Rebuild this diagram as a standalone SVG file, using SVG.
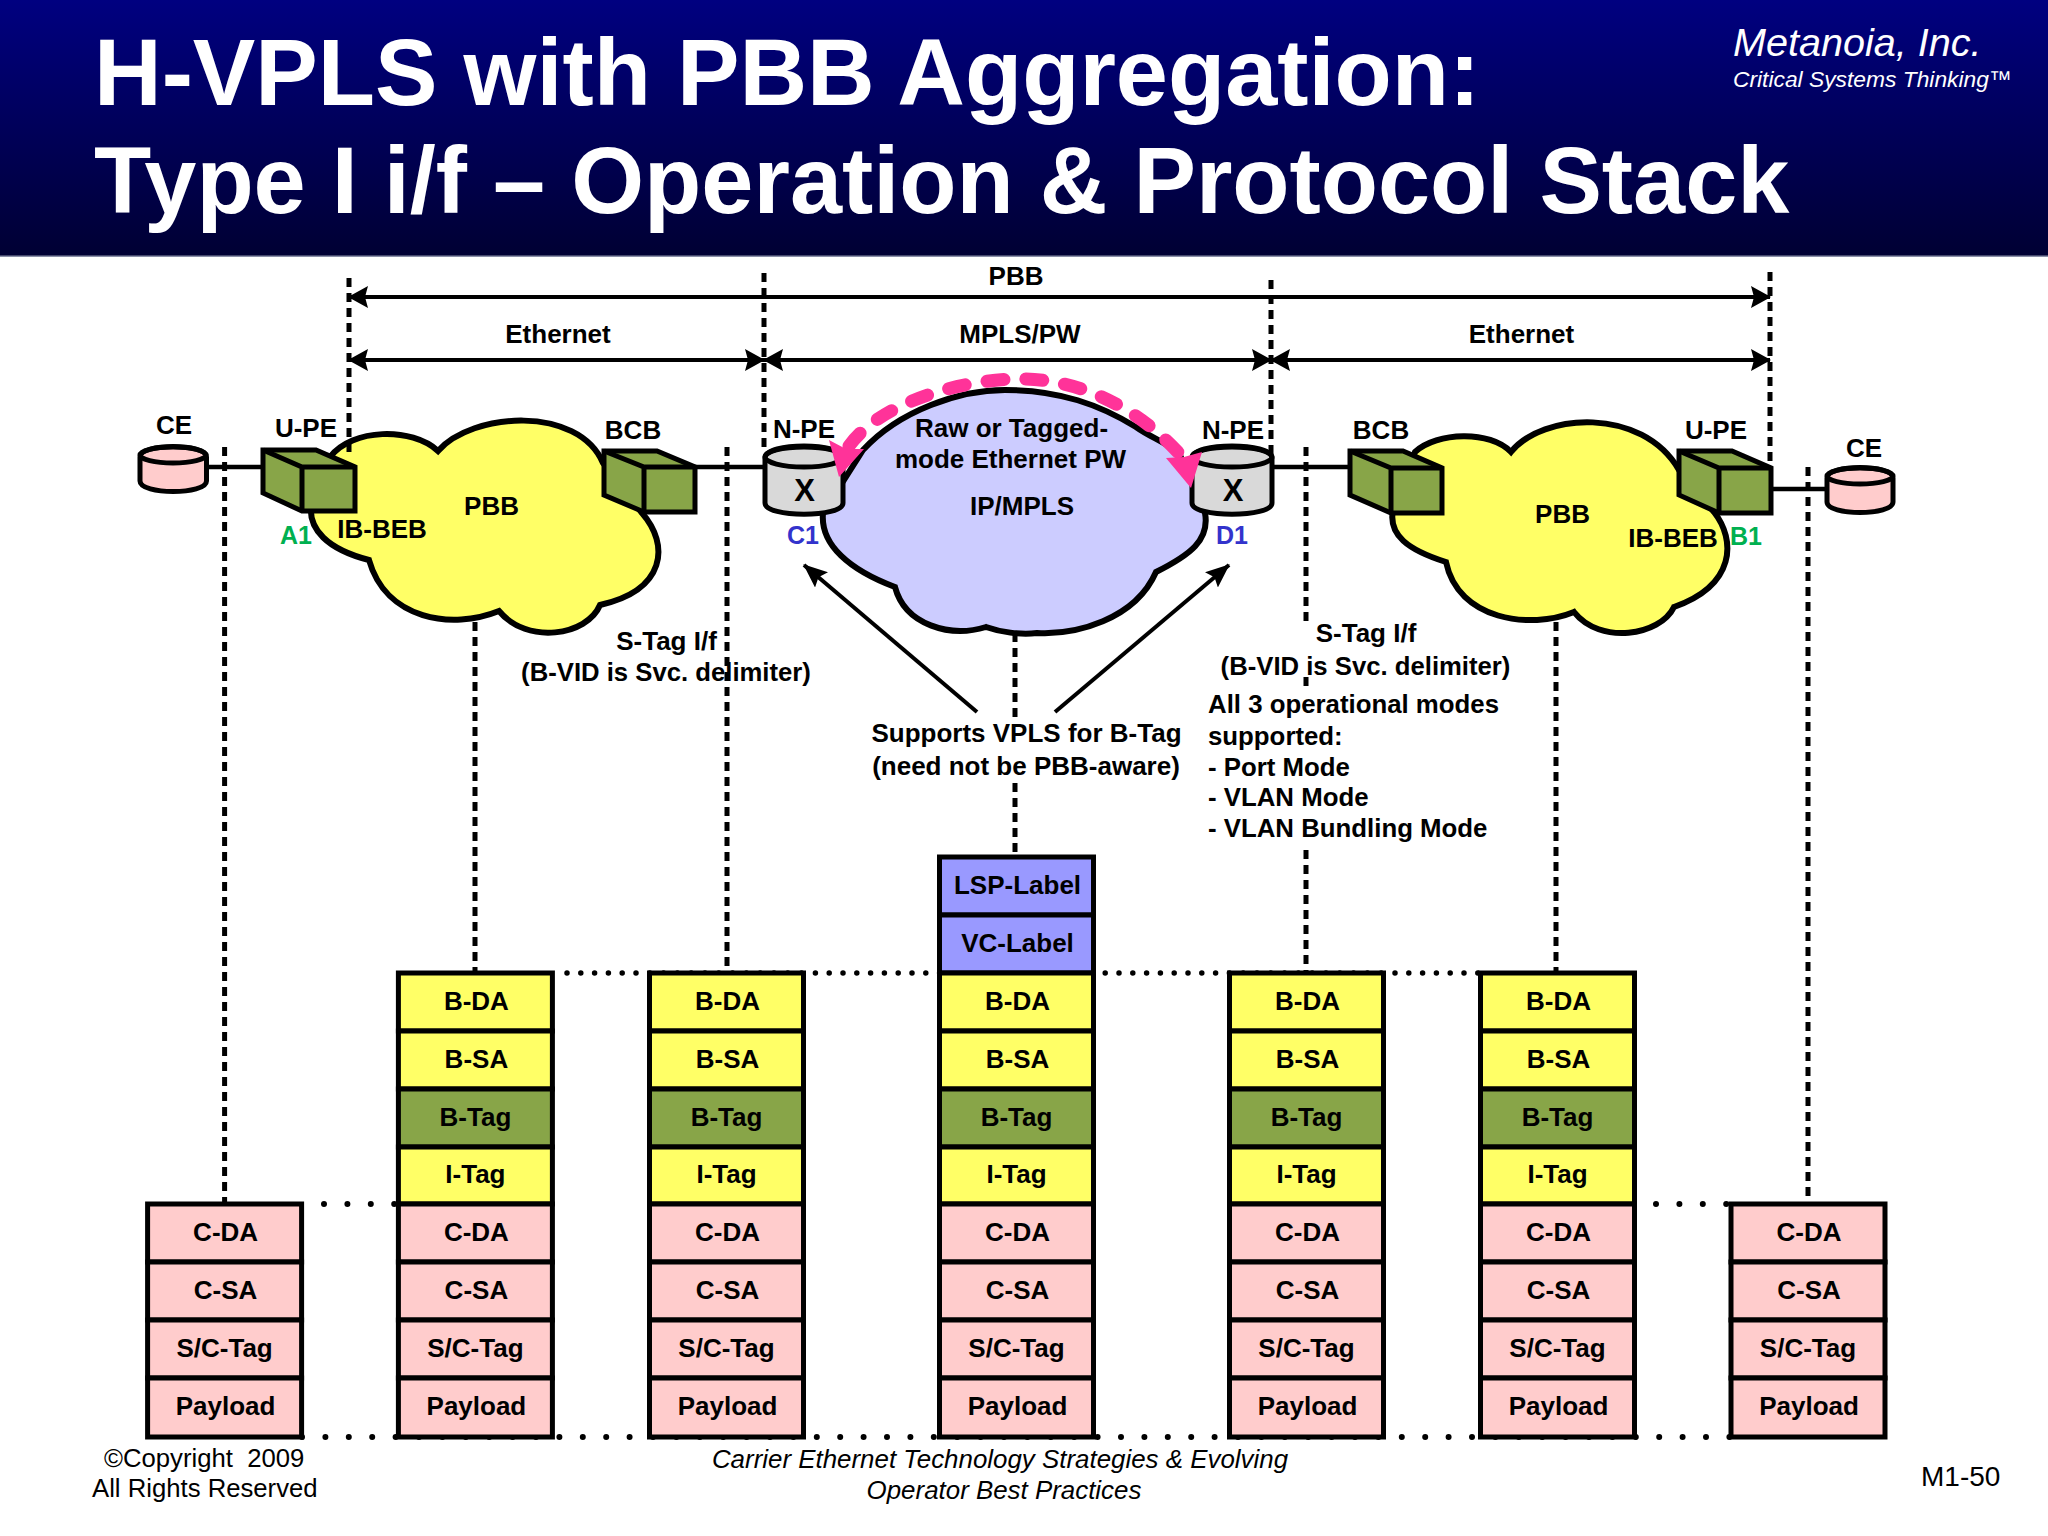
<svg xmlns="http://www.w3.org/2000/svg" width="2048" height="1536" viewBox="0 0 2048 1536">
<defs>
<linearGradient id="hdr" x1="0" y1="0" x2="0" y2="1"><stop offset="0" stop-color="#000080"/><stop offset="1" stop-color="#000033"/></linearGradient>
<marker id="dimA" viewBox="0 0 20 22" refX="19" refY="11" markerWidth="20" markerHeight="22" markerUnits="userSpaceOnUse" orient="auto-start-reverse"><path d="M0 0L20 11L0 22L3 11Z" fill="#000"/></marker>
<marker id="ptr" viewBox="0 0 24 20" refX="23" refY="10" markerWidth="24" markerHeight="20" markerUnits="userSpaceOnUse" orient="auto"><path d="M0 0L24 10L0 20L4 10Z" fill="#000"/></marker>
</defs>
<style>
text{font-family:"Liberation Sans",Arial,sans-serif;fill:#000}
.t{font-weight:700;font-size:26px;text-anchor:middle}
.l{font-weight:700;font-size:25.800px}
.title{font-weight:700;font-size:93.700px;fill:#fff}
.a{font-weight:700;font-size:25px;text-anchor:middle}
.foot{font-size:25.700px;white-space:pre}
.fi{font-size:25.900px;font-style:italic;text-anchor:middle}
.box{stroke:#000;stroke-width:5;stroke-linejoin:miter}
.y{fill:#FFFF66}.g{fill:#88A548}.p{fill:#FFCCCC}.b{fill:#9999FF}
.cloud{stroke:#000;stroke-width:6;stroke-linejoin:miter}
.cube{fill:#88A548;stroke:#000;stroke-width:5;stroke-linejoin:miter}
.cyl{stroke:#000;stroke-width:5}
.dash{fill:none;stroke:#000;stroke-width:5;stroke-dasharray:9 6}
.dot{fill:none;stroke:#000;stroke-width:6;stroke-linecap:round;stroke-dasharray:0 23.4}
.dots{fill:none;stroke:#000;stroke-width:5.500;stroke-linecap:round;stroke-dasharray:0 13.8}
.link{fill:none;stroke:#000;stroke-width:4.500}
.dim{fill:none;stroke:#000;stroke-width:4;marker-start:url(#dimA);marker-end:url(#dimA)}
.ptr{fill:none;stroke:#000;stroke-width:4;marker-end:url(#ptr)}
</style>
<rect width="2048" height="1536" fill="#fff"/>
<g id="header">
<rect width="2048" height="256" fill="url(#hdr)"/>
<rect y="255.500" width="2048" height="1.500" fill="#8a8fa8"/>
<text class="title" x="94" y="105">H-VPLS with PBB Aggregation:</text>
<text class="title" x="94" y="213">Type I i/f – Operation &amp; Protocol Stack</text>
<text x="1733" y="56" font-size="39.600" font-style="italic" style="fill:#fff">Metanoia, Inc.</text>
<text x="1733" y="87" font-size="22.800" font-style="italic" style="fill:#fff">Critical Systems Thinking™</text>
</g>
<g id="clouds">
<path id="cloud-left" class="cloud" style="fill:#FFFF66" d="M330 457C352 428 412 427 438 451C472 412 578 405 603 463L642 513C670 545 666 590 600 605C587 636 527 645 499 611C452 630 386 620 369 560C330 550 305 530 312 500Z"/>
<path id="cloud-middle" class="cloud" style="fill:#CCCCFF" d="M863 450C900 410 960 390 1005 390C1060 390 1100 405 1136 427C1150 437 1165 442 1179 453L1205 513C1210 540 1190 555 1156 572C1135 620 1075 635 1037 633C1020 635 1000 632 986 627C950 638 905 625 895 587C850 570 820 545 823 513Z"/>
<path id="cloud-right" class="cloud" style="fill:#FFFF66" d="M1415 452C1437 432 1490 430 1511 452C1542 413 1642 406 1679 470L1714 512C1736 540 1736 585 1674 607C1660 636 1600 645 1574 612C1530 630 1458 620 1446 562C1408 550 1388 535 1393 510Z"/>
</g>
<g id="connectors">
<path class="link" d="M206 467H263M695 467H764M1272 467H1350M1771 489H1827"/>
<path class="dash" d="M349 278V455M764 273V453M1271 280V455M1770 272V462"/>
<path class="dash" d="M224.600 447V1204M475 622V973M727 447V973M1015 633V718M1015 783V857M1306 447V622M1306 677V686M1306 850V973M1556 622V973M1808 467V1204"/>
<path class="dot" d="M324 1204H398M1656 1204H1730M302 1437H1730"/>
<path class="dots" d="M567 973H1482"/>
<path class="dim" d="M349 297H1770"/>
<path class="dim" d="M349 360H764"/>
<path class="dim" d="M764 360H1271"/>
<path class="dim" d="M1271 360H1770"/>
<path class="ptr" d="M977 712L804 565"/>
<path class="ptr" d="M1055 712L1229 565"/>
</g>
<g id="ce-left"><path class="cyl p" d="M140 457V481C140 495 206.500 495 206.500 481V457C206.500 443 140 443 140 457Z"/><ellipse class="cyl" cx="173" cy="455" rx="33" ry="8" fill="none"/></g>
<g id="ce-right"><path class="cyl p" d="M1827 478V502C1827 516 1893 516 1893 502V478C1893 464 1827 464 1827 478Z"/><ellipse class="cyl" cx="1860" cy="476" rx="33" ry="8" fill="none"/></g>
<g id="upe-left"><path class="cube" d="M263 450H316L355 467V511H302L263 493Z"/><path class="cube" style="fill:none" d="M263 450L302 467H355M302 467V511"/></g>
<g id="bcb-left"><path class="cube" d="M604 451H657L695 467V512H644L604 495Z"/><path class="cube" style="fill:none" d="M604 451L644 467H695M644 467V512"/></g>
<g id="bcb-right"><path class="cube" d="M1350 451H1403L1442 468V513H1391L1350 495Z"/><path class="cube" style="fill:none" d="M1350 451L1391 468H1442M1391 468V513"/></g>
<g id="upe-right"><path class="cube" d="M1679 451H1732L1771 468V513H1719L1679 495Z"/><path class="cube" style="fill:none" d="M1679 451L1719 468H1771M1719 468V513"/></g>
<g id="npe-left"><path class="cyl" fill="#D9D9D9" d="M765 458V503C765 518 843 518 843 503V458C843 442 765 442 765 458Z"/><ellipse class="cyl" cx="804" cy="457" rx="39" ry="10" fill="none"/><text x="804.500" y="501" class="t" style="font-size:31px">X</text></g>
<g id="npe-right"><path class="cyl" fill="#D9D9D9" d="M1192 458V503C1192 518 1272 518 1272 503V458C1272 442 1192 442 1192 458Z"/><ellipse class="cyl" cx="1232" cy="457" rx="40" ry="10" fill="none"/><text x="1233" y="501" class="t" style="font-size:31px">X</text></g>
<g id="pw-arc">
<path d="M849 446C880 403 960 379 1021 379C1080 379 1140 408 1185 460" fill="none" stroke="#FF3399" stroke-width="13" stroke-linecap="round" stroke-dasharray="17 22"/>
<path d="M829 440L839 477L864 449L846 449Z" fill="#FF3399"/>
<path d="M1166 458L1191 488L1202 452L1184 457Z" fill="#FF3399"/>
</g>
<g id="labels">
<text class="t" x="1016" y="285">PBB</text>
<text class="t" x="558" y="343">Ethernet</text>
<text class="t" x="1020" y="343">MPLS/PW</text>
<text class="t" x="1521.500" y="343">Ethernet</text>
<text class="t" x="174" y="434">CE</text>
<text class="t" x="306" y="437">U-PE</text>
<text class="t" x="633" y="439">BCB</text>
<text class="t" x="804" y="438">N-PE</text>
<text class="t" x="1233" y="439">N-PE</text>
<text class="t" x="1381" y="439">BCB</text>
<text class="t" x="1716" y="439">U-PE</text>
<text class="t" x="1864" y="457">CE</text>
<text class="a" x="296" y="544" style="fill:#00B050">A1</text>
<text class="a" x="803" y="544" style="fill:#3333CC">C1</text>
<text class="a" x="1232" y="544" style="fill:#3333CC">D1</text>
<text class="a" x="1746" y="545" style="fill:#00B050">B1</text>
<text class="t" x="382" y="538">IB-BEB</text>
<text class="t" x="491.500" y="515">PBB</text>
<text class="t" x="1673" y="547">IB-BEB</text>
<text class="t" x="1562.500" y="523">PBB</text>
<text class="t" x="1011.500" y="437">Raw or Tagged-</text>
<text class="t" x="1010.500" y="468">mode Ethernet PW</text>
<text class="t" x="1022" y="515">IP/MPLS</text>
<text class="t" x="666.500" y="650">S-Tag I/f</text>
<text class="t" x="666" y="681" style="font-size:25.700px">(B-VID is Svc. delimiter)</text>
<text class="t" x="1366" y="642">S-Tag I/f</text>
<text class="t" x="1365.500" y="675" style="font-size:25.700px">(B-VID is Svc. delimiter)</text>
<text class="l" x="1208" y="713">All 3 operational modes</text>
<text class="l" x="1208" y="745">supported:</text>
<text class="l" x="1208" y="776">- Port Mode</text>
<text class="l" x="1208" y="806">- VLAN Mode</text>
<text class="l" x="1208" y="837">- VLAN Bundling Mode</text>
<text class="t" x="1026.500" y="742">Supports VPLS for B-Tag</text>
<text class="t" x="1026" y="775">(need not be PBB-aware)</text>
</g>
<g id="stack-1" transform="translate(224.600 0)">
<rect class="box p" x="-77" y="1204" width="154" height="58"/><text class="t" x="1" y="1241">C-DA</text>
<rect class="box p" x="-77" y="1262" width="154" height="58"/><text class="t" x="1" y="1299">C-SA</text>
<rect class="box p" x="-77" y="1320" width="154" height="58"/><text class="t" x="0" y="1357">S/C-Tag</text>
<rect class="box p" x="-77" y="1378" width="154" height="59"/><text class="t" x="1" y="1415">Payload</text>
</g>
<g id="stack-2" transform="translate(475.400 0)">
<rect class="box y" x="-77" y="973" width="154" height="58"/><text class="t" x="1" y="1010">B-DA</text>
<rect class="box y" x="-77" y="1031" width="154" height="58"/><text class="t" x="1" y="1068">B-SA</text>
<rect class="box g" x="-77" y="1089" width="154" height="58"/><text class="t" x="0" y="1126">B-Tag</text>
<rect class="box y" x="-77" y="1147" width="154" height="57"/><text class="t" x="0" y="1183">I-Tag</text>
<rect class="box p" x="-77" y="1204" width="154" height="58"/><text class="t" x="1" y="1241">C-DA</text>
<rect class="box p" x="-77" y="1262" width="154" height="58"/><text class="t" x="1" y="1299">C-SA</text>
<rect class="box p" x="-77" y="1320" width="154" height="58"/><text class="t" x="0" y="1357">S/C-Tag</text>
<rect class="box p" x="-77" y="1378" width="154" height="59"/><text class="t" x="1" y="1415">Payload</text>
</g>
<g id="stack-3" transform="translate(726.500 0)">
<rect class="box y" x="-77" y="973" width="154" height="58"/><text class="t" x="1" y="1010">B-DA</text>
<rect class="box y" x="-77" y="1031" width="154" height="58"/><text class="t" x="1" y="1068">B-SA</text>
<rect class="box g" x="-77" y="1089" width="154" height="58"/><text class="t" x="0" y="1126">B-Tag</text>
<rect class="box y" x="-77" y="1147" width="154" height="57"/><text class="t" x="0" y="1183">I-Tag</text>
<rect class="box p" x="-77" y="1204" width="154" height="58"/><text class="t" x="1" y="1241">C-DA</text>
<rect class="box p" x="-77" y="1262" width="154" height="58"/><text class="t" x="1" y="1299">C-SA</text>
<rect class="box p" x="-77" y="1320" width="154" height="58"/><text class="t" x="0" y="1357">S/C-Tag</text>
<rect class="box p" x="-77" y="1378" width="154" height="59"/><text class="t" x="1" y="1415">Payload</text>
</g>
<g id="stack-4" transform="translate(1016.500 0)">
<rect class="box b" x="-77" y="857" width="154" height="58"/><text class="t" x="1" y="894">LSP-Label</text>
<rect class="box b" x="-77" y="915" width="154" height="58"/><text class="t" x="1" y="952">VC-Label</text>
<rect class="box y" x="-77" y="973" width="154" height="58"/><text class="t" x="1" y="1010">B-DA</text>
<rect class="box y" x="-77" y="1031" width="154" height="58"/><text class="t" x="1" y="1068">B-SA</text>
<rect class="box g" x="-77" y="1089" width="154" height="58"/><text class="t" x="0" y="1126">B-Tag</text>
<rect class="box y" x="-77" y="1147" width="154" height="57"/><text class="t" x="0" y="1183">I-Tag</text>
<rect class="box p" x="-77" y="1204" width="154" height="58"/><text class="t" x="1" y="1241">C-DA</text>
<rect class="box p" x="-77" y="1262" width="154" height="58"/><text class="t" x="1" y="1299">C-SA</text>
<rect class="box p" x="-77" y="1320" width="154" height="58"/><text class="t" x="0" y="1357">S/C-Tag</text>
<rect class="box p" x="-77" y="1378" width="154" height="59"/><text class="t" x="1" y="1415">Payload</text>
</g>
<g id="stack-5" transform="translate(1306.500 0)">
<rect class="box y" x="-77" y="973" width="154" height="58"/><text class="t" x="1" y="1010">B-DA</text>
<rect class="box y" x="-77" y="1031" width="154" height="58"/><text class="t" x="1" y="1068">B-SA</text>
<rect class="box g" x="-77" y="1089" width="154" height="58"/><text class="t" x="0" y="1126">B-Tag</text>
<rect class="box y" x="-77" y="1147" width="154" height="57"/><text class="t" x="0" y="1183">I-Tag</text>
<rect class="box p" x="-77" y="1204" width="154" height="58"/><text class="t" x="1" y="1241">C-DA</text>
<rect class="box p" x="-77" y="1262" width="154" height="58"/><text class="t" x="1" y="1299">C-SA</text>
<rect class="box p" x="-77" y="1320" width="154" height="58"/><text class="t" x="0" y="1357">S/C-Tag</text>
<rect class="box p" x="-77" y="1378" width="154" height="59"/><text class="t" x="1" y="1415">Payload</text>
</g>
<g id="stack-6" transform="translate(1557.500 0)">
<rect class="box y" x="-77" y="973" width="154" height="58"/><text class="t" x="1" y="1010">B-DA</text>
<rect class="box y" x="-77" y="1031" width="154" height="58"/><text class="t" x="1" y="1068">B-SA</text>
<rect class="box g" x="-77" y="1089" width="154" height="58"/><text class="t" x="0" y="1126">B-Tag</text>
<rect class="box y" x="-77" y="1147" width="154" height="57"/><text class="t" x="0" y="1183">I-Tag</text>
<rect class="box p" x="-77" y="1204" width="154" height="58"/><text class="t" x="1" y="1241">C-DA</text>
<rect class="box p" x="-77" y="1262" width="154" height="58"/><text class="t" x="1" y="1299">C-SA</text>
<rect class="box p" x="-77" y="1320" width="154" height="58"/><text class="t" x="0" y="1357">S/C-Tag</text>
<rect class="box p" x="-77" y="1378" width="154" height="59"/><text class="t" x="1" y="1415">Payload</text>
</g>
<g id="stack-7" transform="translate(1808 0)">
<rect class="box p" x="-77" y="1204" width="154" height="58"/><text class="t" x="1" y="1241">C-DA</text>
<rect class="box p" x="-77" y="1262" width="154" height="58"/><text class="t" x="1" y="1299">C-SA</text>
<rect class="box p" x="-77" y="1320" width="154" height="58"/><text class="t" x="0" y="1357">S/C-Tag</text>
<rect class="box p" x="-77" y="1378" width="154" height="59"/><text class="t" x="1" y="1415">Payload</text>
</g>
<g id="footer">
<text class="foot" x="104" y="1467">©Copyright  2009</text>
<text class="foot" x="92" y="1497">All Rights Reserved</text>
<text class="fi" x="1000" y="1468">Carrier Ethernet Technology Strategies &amp; Evolving</text>
<text class="fi" x="1004" y="1499">Operator Best Practices</text>
<text class="foot" x="1921" y="1486" style="font-size:28px">M1-50</text>
</g>
</svg>
